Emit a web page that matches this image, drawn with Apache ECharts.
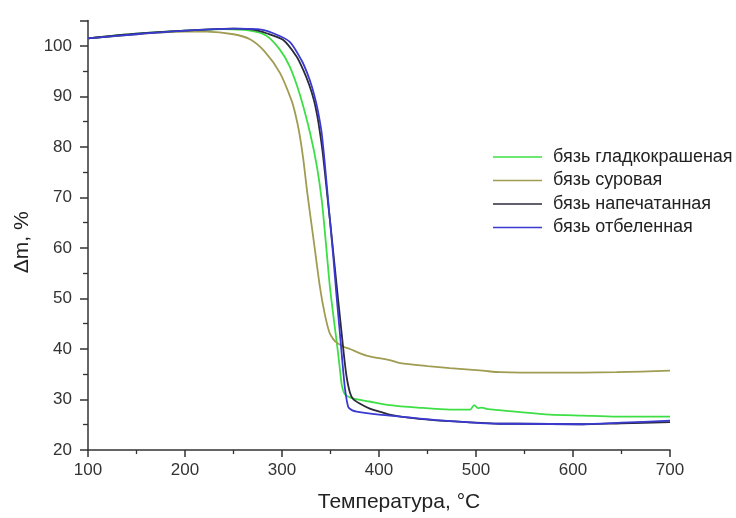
<!DOCTYPE html>
<html>
<head>
<meta charset="utf-8">
<script src="https://cdn.jsdelivr.net/npm/echarts@6/dist/echarts.min.js"></script>
<style>
html,body{margin:0;padding:0;background:#fff;}
#chart{width:736px;height:518px;}
</style>
</head>
<body>
<div id="chart"></div>
<script>
// Series names
const seriesNames = ['бязь гладкокрашеная', 'бязь суровая', 'бязь напечатанная', 'бязь отбеленная'];

// бязь гладкокрашеная
const greenT = [100,150,200,240,267,284,298,308,318,329,336,341,345,349,353,356,359,361.5,364,367,375,390,411,440,473,494,498,502,506,512,540,576,610,645,700];
const greenM = [101.5,102.4,103.0,103.3,103.0,102.0,99.2,95.9,90.6,82.7,76.1,69.4,61.5,53,46.5,42,37.2,33,31.3,30.7,30.1,29.6,28.9,28.4,28.0,28.0,28.9,28.3,28.4,28.1,27.6,27.0,26.8,26.6,26.6];

// бязь суровая
const oliveT = [100,150,200,222,250,267,282,298,310,314,318,322,326,333,339,344,349,353,356,363,370,387,411,422,450,473,507,525,576,645,700];
const oliveM = [101.5,102.3,102.8,102.8,102.3,101.3,98.9,94.6,89.1,86.3,82.6,77.5,71,61,52.4,47,43.2,41.9,41.3,40.5,40.0,38.7,37.8,37.2,36.6,36.2,35.7,35.4,35.3,35.4,35.7];

// бязь напечатанная
const darkT = [100,150,200,250,270,284,301,315,322,328,333,336.5,339,342,345,348,350,354,358,361.4,364,366.6,370,373.3,380,390.5,404,411,430,456,473,525,542,610,650,700];
const darkM = [101.5,102.4,103.0,103.4,103.2,102.5,101.2,97.9,95.2,92.3,89.2,86,83,78.8,73.5,68,64.5,57,49.5,43.3,38.5,34.5,31.4,30.1,29.2,28.2,27.4,27.0,26.4,25.9,25.7,25.2,25.2,25.1,25.3,25.5];

// бязь отбеленная
const blueT = [100,150,200,250,275,291,308,320,326,331,335.5,338.5,341,344,347.5,352.8,356,359.6,362,364.9,368.3,372,377,400,422,473,525,542,610,650,700];
const blueM = [101.5,102.3,103.0,103.4,103.3,102.5,100.8,97.2,94.6,91.8,88.5,85.6,82.6,77,69.5,58.4,51,43.3,38,32.2,28.5,27.9,27.6,27.0,26.6,25.7,25.2,25.2,25.1,25.4,25.8];

// Axis ticks
const xTicks = [100,200,300,400,500,600,700];
const yTicks = [20,30,40,50,60,70,80,90,100];

const colors = ['#3ddf45', '#a09c52', '#2a2a3c', '#3a3ad2'];

function pairs(t, m) { return t.map((v, i) => [v, m[i]]); }
const allData = [pairs(greenT, greenM), pairs(oliveT, oliveM), pairs(darkT, darkM), pairs(blueT, blueM)];

const chart = echarts.init(document.getElementById('chart'), null, {renderer: 'canvas'});
const axisColor = '#333';
const fontFam = '"Liberation Sans", Arial, sans-serif';

chart.setOption({
  backgroundColor: '#fff',
  animation: false,
  color: colors,
  grid: {left: 88, right: 66, top: 20.6, bottom: 66, containLabel: false},
  legend: {
    orient: 'vertical',
    left: 488,
    top: 143,
    icon: 'rect',
    itemWidth: 49,
    itemHeight: 1.5,
    itemGap: 5.5,
    textStyle: {fontSize: 18, color: '#222', fontFamily: fontFam, padding: [0, 0, 0, 6]},
    data: seriesNames
  },
  xAxis: {
    type: 'value',
    min: xTicks[0],
    max: xTicks[xTicks.length - 1],
    interval: 100,
    name: 'Температура, °C',
    nameLocation: 'middle',
    nameGap: 42,
    nameTextStyle: {fontSize: 21, color: '#222', fontFamily: fontFam, padding: [0, 0, 0, 40]},
    axisLine: {lineStyle: {color: axisColor, width: 1.5}},
    axisTick: {length: 7, lineStyle: {color: axisColor, width: 1.5}},
    minorTick: {show: true, splitNumber: 2, length: 4, lineStyle: {color: axisColor, width: 1.3}},
    axisLabel: {fontSize: 17, color: '#333', margin: 12, fontFamily: fontFam},
    splitLine: {show: false}
  },
  yAxis: {
    type: 'value',
    min: yTicks[0],
    max: 105,
    interval: 10,
    name: 'Δm, %',
    nameLocation: 'middle',
    nameGap: 54,
    nameTextStyle: {fontSize: 21, color: '#222', fontFamily: fontFam, padding: [0, 14, 0, 0]},
    axisLine: {show: true, lineStyle: {color: axisColor, width: 1.5}},
    axisTick: {show: true, length: 8, lineStyle: {color: axisColor, width: 1.5}},
    minorTick: {show: true, splitNumber: 2, length: 5, lineStyle: {color: axisColor, width: 1.3}},
    axisLabel: {fontSize: 17, color: '#333', margin: 16, showMaxLabel: false, fontFamily: fontFam},
    splitLine: {show: false}
  },
  series: seriesNames.map((n, i) => ({
    name: n,
    type: 'line',
    data: allData[i],
    showSymbol: false,
    smooth: 0.25,
    lineStyle: {width: 1.8, color: colors[i]},
    itemStyle: {color: colors[i]},
    z: i === 3 ? 5 : 2 + i
  }))
});
</script>
</body>
</html>
